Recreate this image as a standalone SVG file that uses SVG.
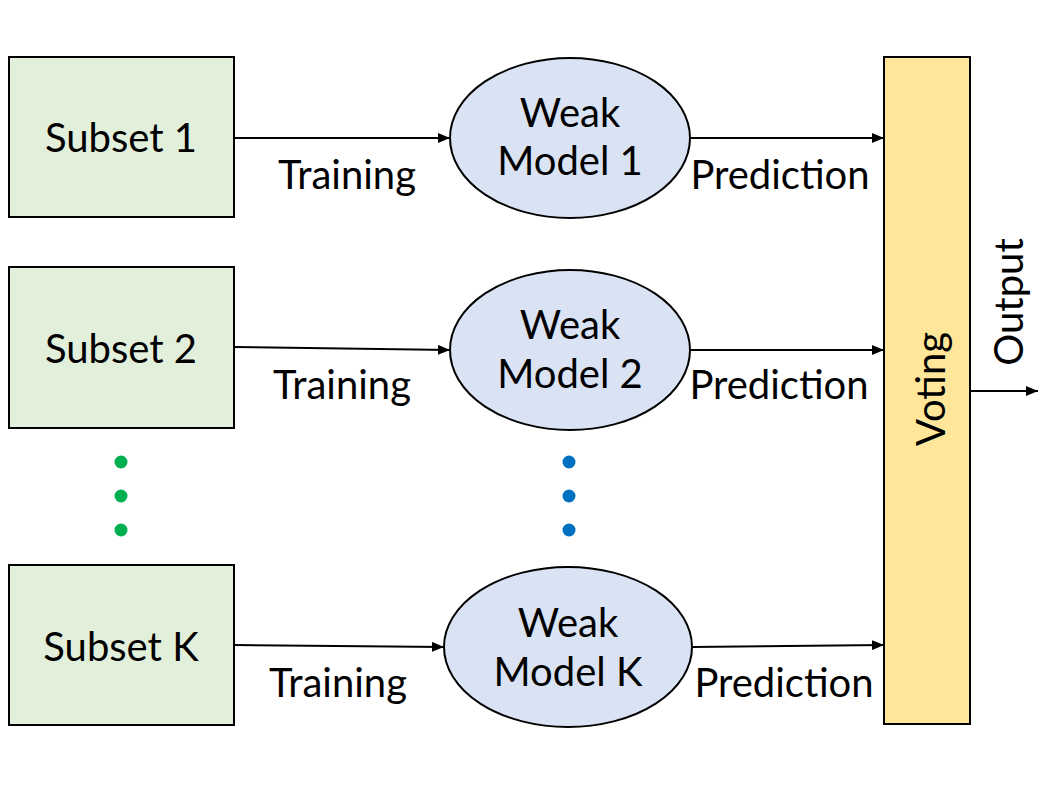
<svg xmlns="http://www.w3.org/2000/svg" width="1051" height="792" viewBox="0 0 1051 792">
<style>
text{font-family:Lato,"Liberation Sans",sans-serif;font-size:40px;fill:#000;text-anchor:middle}
.box{fill:#e2efda;stroke:#000;stroke-width:2}
.ell{fill:#dae3f3;stroke:#000;stroke-width:2}
.vote{fill:#ffe699;stroke:#000;stroke-width:2}
.conn line{stroke:#000;stroke-width:2;marker-end:url(#ah)}
</style>
<defs>
<marker id="ah" viewBox="0 0 12 10" refX="12" refY="5" markerWidth="12" markerHeight="10" markerUnits="userSpaceOnUse" orient="auto">
<path d="M0,0L12,5L0,10z" fill="#000"/>
</marker>
</defs>
<rect width="1051" height="792" fill="#fff"/>
<g id="subset1"><rect class="box" x="9" y="57" width="225" height="160"/><text x="121" y="152">Subset 1</text></g>
<g id="subset2"><rect class="box" x="9" y="267" width="225" height="161"/><text x="121" y="363">Subset 2</text></g>
<g id="subsetK"><rect class="box" x="9" y="565" width="225" height="160"/><text x="121" y="661">Subset K</text></g>
<g id="model1"><ellipse class="ell" cx="570" cy="138" rx="120" ry="80"/><text x="570" y="127">Weak</text><text x="570" y="175">Model 1</text></g>
<g id="model2"><ellipse class="ell" cx="570" cy="350" rx="120" ry="80"/><text x="570" y="339">Weak</text><text x="570" y="388">Model 2</text></g>
<g id="modelK"><ellipse class="ell" cx="568" cy="647" rx="124" ry="80"/><text x="568" y="637">Weak</text><text x="568" y="686">Model K</text></g>
<g id="voting"><rect class="vote" x="884" y="57" width="86" height="667"/><text transform="translate(945,389) rotate(-90)">Voting</text></g>
<g id="dots">
<circle cx="121" cy="462" r="6.5" fill="#00b050"/><circle cx="121" cy="496" r="6.5" fill="#00b050"/><circle cx="121" cy="530" r="6.5" fill="#00b050"/>
<circle cx="569" cy="462" r="6.5" fill="#0070c0"/><circle cx="569" cy="496" r="6.5" fill="#0070c0"/><circle cx="569" cy="530" r="6.5" fill="#0070c0"/>
</g>
<g id="connectors" class="conn">
<line x1="234" y1="138" x2="450" y2="138"/>
<line x1="234" y1="347" x2="450" y2="350"/>
<line x1="234" y1="645" x2="444" y2="647"/>
<line x1="690" y1="138" x2="884" y2="138"/>
<line x1="690" y1="350" x2="884" y2="350"/>
<line x1="692" y1="647" x2="884" y2="645"/>
<line x1="970" y1="391" x2="1038" y2="391"/>
</g>
<g id="labels">
<text x="347" y="189">Training</text>
<text x="342" y="399">Training</text>
<text x="338" y="697">Training</text>
<text x="780" y="189">Prediction</text>
<text x="779" y="399">Prediction</text>
<text x="784" y="697">Prediction</text>
<text transform="translate(1023,302) rotate(-90)">Output</text>
</g>
</svg>
